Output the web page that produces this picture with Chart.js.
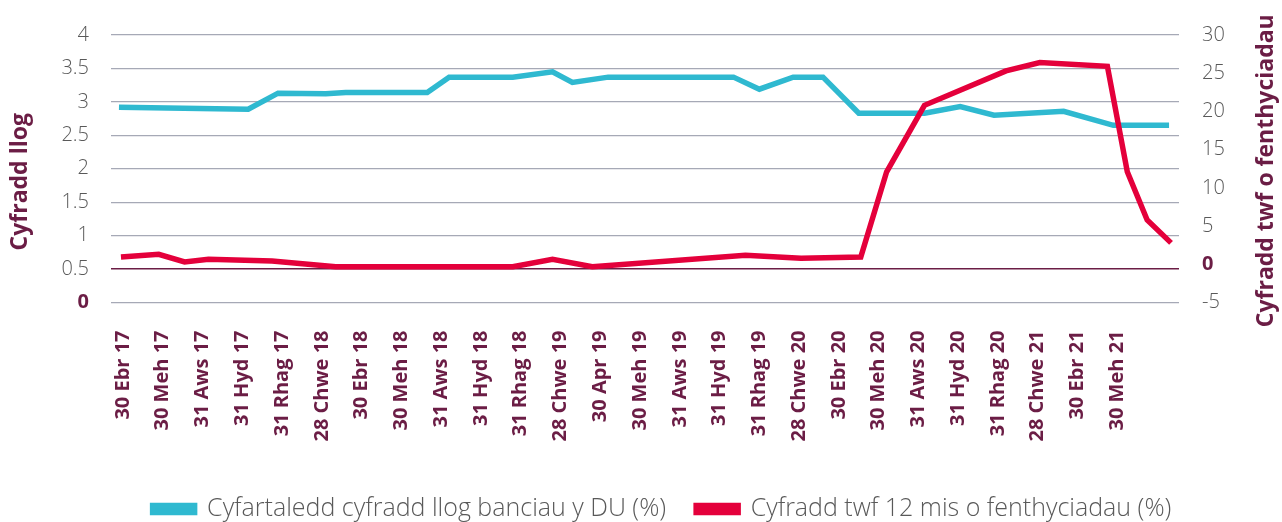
<!DOCTYPE html>
<html>
<head>
<meta charset="utf-8">
<script src="https://cdn.jsdelivr.net/npm/chart.js@4/dist/chart.umd.min.js"></script>
<style>
  html, body { margin: 0; padding: 0; background: #ffffff; }
  #wrap { width: 1282px; height: 522px; position: relative; }
</style>
</head>
<body>
<div id="wrap"><canvas id="graff"></canvas></div>
<script>
// Lliwiau
const CYAN = '#2fb9d0';
const COCH = '#e4003b';
const MARWN = '#6b1d45';
const LLWYD = '#595959';
const GRID = '#a6a9b6';
const TEULU = '"Open Sans", Lato, sans-serif';

// Labeli'r echelin x (bob yn ail fis, o Ebrill 2017)
const tickLabels = [
    '30 Ebr 17', '30 Meh 17', '31 Aws 17', '31 Hyd 17', '31 Rhag 17',
    '28 Chwe 18', '30 Ebr 18', '30 Meh 18', '31 Aws 18', '31 Hyd 18',
    '31 Rhag 18', '28 Chwe 19', '30 Apr 19', '30 Meh 19', '31 Aws 19',
    '31 Hyd 19', '31 Rhag 19', '28 Chwe 20', '30 Ebr 20', '30 Meh 20',
    '31 Aws 20', '31 Hyd 20', '31 Rhag 20', '28 Chwe 21', '30 Ebr 21',
    '30 Meh 21'
];

// Cyfartaledd cyfradd llog (misoedd ers Ebrill 2017, %)
const llogMis = [-0.2, 6.3, 7.8, 10.2, 11.2, 15.3, 16.4, 19.6, 21.6, 22.6, 24.4,
    30.7, 32.0, 33.7, 35.2, 37.0, 40.3, 42.1, 43.8, 47.3, 49.8, 52.6];
const llogGwerth = [2.92, 2.89, 3.13, 3.12, 3.14, 3.14, 3.37, 3.37, 3.45, 3.29, 3.37,
    3.37, 3.19, 3.37, 3.37, 2.83, 2.83, 2.93, 2.80, 2.86, 2.65, 2.65];

// Cyfradd twf 12 mis (misoedd ers Ebrill 2017, %)
const twfMis = [-0.1, 1.8, 3.1, 4.3, 7.5, 10.7, 19.6, 21.6, 23.6, 31.3, 34.1,
    37.1, 38.4, 40.3, 44.4, 46.1, 49.5, 50.5, 51.5, 52.7];
const twfGwerth = [0.96, 1.31, 0.31, 0.66, 0.44, -0.33, -0.33, 0.66, -0.33, 1.18, 0.79,
    0.96, 12.1, 20.8, 25.3, 26.4, 25.9, 12.1, 5.8, 2.8];

const teitlChwith = 'Cyfradd llog';
const teitlDde = 'Cyfradd twf o fenthyciadau';

const pwyntiau = (xs, ys) => xs.map((x, i) => ({ x: x, y: ys[i] }));

const ffontTic = { family: TEULU, size: 20, weight: '300' };
const ffontTicBras = { family: TEULU, size: 20, weight: 'bold' };

// ai sero yw'r tic?
const ydySero = ctx => ctx.tick && ctx.tick.value === 0;

// teitlau'r echelinau, yn darllen o'r gwaelod i fyny
const teitlauPlugin = {
    id: 'teitlau',
    afterLayout(chart) {
        // symud yr allwedd ychydig i'r dde, fel yn y gwreiddiol
        if (chart.legend) {
            chart.legend.left += 21;
            chart.legend.right += 21;
        }
    },
    afterDraw(chart) {
        const { ctx, chartArea } = chart;
        const canol = (chartArea.top + chartArea.bottom) / 2;
        const tynnu = (testun, x, y) => {
            ctx.save();
            ctx.translate(x, y);
            ctx.rotate(-Math.PI / 2);
            ctx.fillStyle = MARWN;
            ctx.font = 'bold 23px ' + TEULU;
            ctx.textAlign = 'center';
            ctx.textBaseline = 'middle';
            ctx.fillText(testun, 0, 0);
            ctx.restore();
        };
        tynnu(teitlChwith, 20, canol + 13);
        tynnu(teitlDde, 1266, canol + 2);
    }
};

new Chart(document.getElementById('graff'), {
    type: 'line',
    data: {
        datasets: [{
            label: 'Cyfartaledd cyfradd llog banciau y DU (%)',
            data: pwyntiau(llogMis, llogGwerth),
            borderColor: CYAN,
            backgroundColor: CYAN,
            borderWidth: 5.5,
            pointRadius: 0,
            tension: 0,
            yAxisID: 'y',
            order: 1
        }, {
            label: 'Cyfradd twf 12 mis o fenthyciadau (%)',
            data: pwyntiau(twfMis, twfGwerth),
            borderColor: COCH,
            backgroundColor: COCH,
            borderWidth: 5.5,
            pointRadius: 0,
            tension: 0,
            yAxisID: 'y1',
            order: 0
        }]
    },
    plugins: [teitlauPlugin],
    options: {
        responsive: true,
        maintainAspectRatio: false,
        animation: false,
        layout: { padding: { top: 21, left: 0, right: 0, bottom: -9.5 } },
        plugins: {
            tooltip: { enabled: false },
            legend: {
                position: 'bottom',
                labels: {
                    boxWidth: 42,
                    boxHeight: 7,
                    padding: 30,
                    color: LLWYD,
                    font: { family: TEULU, size: 25, weight: '300' },
                    sort: (a, b) => a.datasetIndex - b.datasetIndex
                }
            }
        },
        scales: {
            x: {
                type: 'linear',
                min: -0.6,
                max: 53.1,
                grid: { display: false, drawTicks: false },
                border: { display: false },
                afterBuildTicks: scale => {
                    scale.ticks = tickLabels.map((t, i) => ({ value: i * 2 }));
                },
                afterFit: scale => { scale.height = 164; },
                ticks: {
                    autoSkip: false,
                    maxRotation: 90,
                    minRotation: 90,
                    padding: 28,
                    color: MARWN,
                    font: { family: TEULU, size: 20, weight: 'bold' },
                    callback: value => tickLabels[Math.round(value / 2)]
                }
            },
            y: {
                position: 'left',
                min: 0,
                max: 4,
                afterFit: scale => { scale.width = 111; },
                border: { display: false },
                grid: {
                    drawTicks: false,
                    color: ctx => ctx.tick && ctx.tick.value === 0.5 ? MARWN : GRID,
                    lineWidth: ctx => ctx.tick && ctx.tick.value === 0.5 ? 1.5 : 1.2
                },
                ticks: {
                    stepSize: 0.5,
                    padding: 22,
                    color: ctx => ydySero(ctx) ? MARWN : LLWYD,
                    font: ctx => ydySero(ctx) ? ffontTicBras : ffontTic,
                    callback: v => String(v)
                }
            },
            y1: {
                position: 'right',
                min: -5,
                max: 30,
                afterFit: scale => { scale.width = 103; },
                border: { display: false },
                grid: { display: false, drawTicks: false },
                ticks: {
                    stepSize: 5,
                    padding: 23,
                    color: ctx => ydySero(ctx) ? MARWN : LLWYD,
                    font: ctx => ydySero(ctx) ? ffontTicBras : ffontTic,
                    callback: v => String(v)
                }
            }
        }
    }
});
</script>
</body>
</html>
